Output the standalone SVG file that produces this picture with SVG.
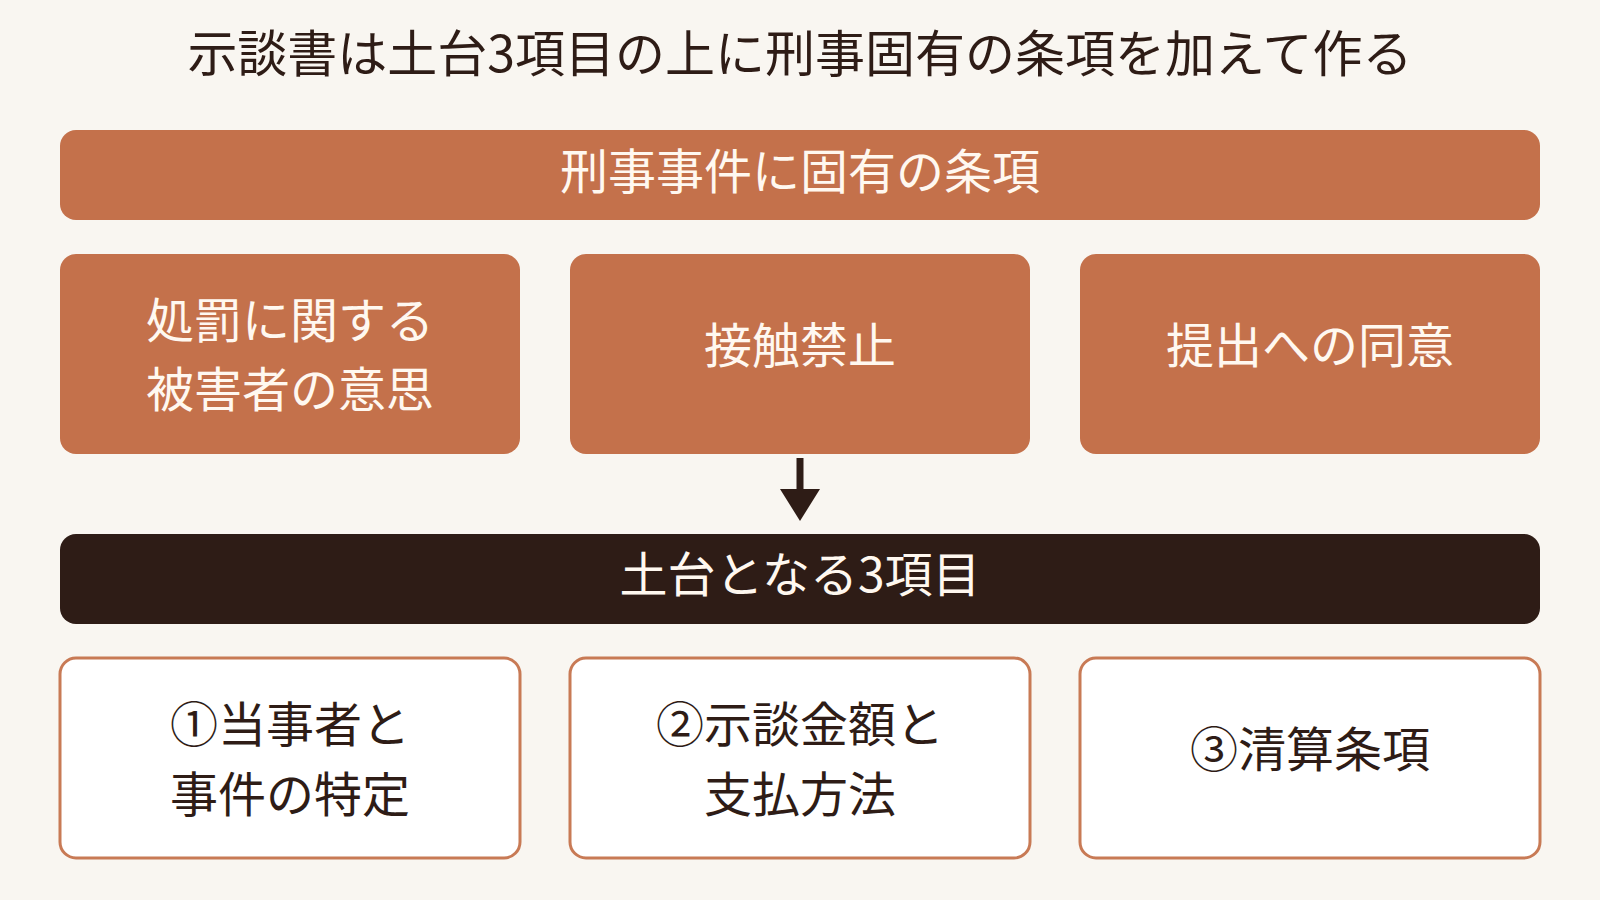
<svg xmlns="http://www.w3.org/2000/svg" width="1600" height="900" viewBox="0 0 1600 900">
<defs>
<style>
text{font-family:"Noto Sans CJK JP","Noto Sans CJK SC",sans-serif;text-anchor:middle}
.title{font-size:50px;fill:#2E1C16}
.lt{font-size:48px;fill:#FFF8F0}
.dk{font-size:48px;fill:#2E1C16}
.org{fill:#C4714B}
.base{fill:#FFFFFF;stroke:#C87A55;stroke-width:3}
</style>
<marker id="ah" markerUnits="userSpaceOnUse" markerWidth="32" markerHeight="40" refX="1" refY="20" orient="auto" viewBox="0 0 32 40">
<path d="M0,0 L32,20 L0,40 Z" fill="#2E1C16"/>
</marker>
</defs>
<rect x="0" y="0" width="1600" height="900" fill="#F9F6F1"/>
<text class="title" x="800" y="72">示談書は土台3項目の上に刑事固有の条項を加えて作る</text>
<g id="top-bar">
<rect class="org" x="60" y="130" width="1480" height="90" rx="16"/>
<text class="lt" x="800" y="189">刑事事件に固有の条項</text>
</g>
<g id="node-shobatsu">
<rect class="org" x="60" y="254" width="460" height="200" rx="16"/>
<text class="lt" x="290" y="338">処罰に関する</text>
<text class="lt" x="290" y="407">被害者の意思</text>
</g>
<g id="node-sesshoku">
<rect class="org" x="570" y="254" width="460" height="200" rx="16"/>
<text class="lt" x="800" y="363">接触禁止</text>
</g>
<g id="node-teishutsu">
<rect class="org" x="1080" y="254" width="460" height="200" rx="16"/>
<text class="lt" x="1310" y="363">提出への同意</text>
</g>
<g id="connectors">
<line x1="800" y1="458" x2="800" y2="490" stroke="#2E1C16" stroke-width="7" marker-end="url(#ah)"/>
</g>
<g id="base-bar">
<rect x="60" y="534" width="1480" height="90" rx="16" fill="#2E1C16"/>
<text class="lt" x="800" y="592">土台となる3項目</text>
</g>
<g id="node-toujisha">
<rect class="base" x="60" y="658" width="460" height="200" rx="16"/>
<text class="dk" x="290" y="742">①当事者と</text>
<text class="dk" x="290" y="812">事件の特定</text>
</g>
<g id="node-jidankin">
<rect class="base" x="570" y="658" width="460" height="200" rx="16"/>
<text class="dk" x="800" y="742">②示談金額と</text>
<text class="dk" x="800" y="812">支払方法</text>
</g>
<g id="node-seisan">
<rect class="base" x="1080" y="658" width="460" height="200" rx="16"/>
<text class="dk" x="1310" y="767">③清算条項</text>
</g>
</svg>
